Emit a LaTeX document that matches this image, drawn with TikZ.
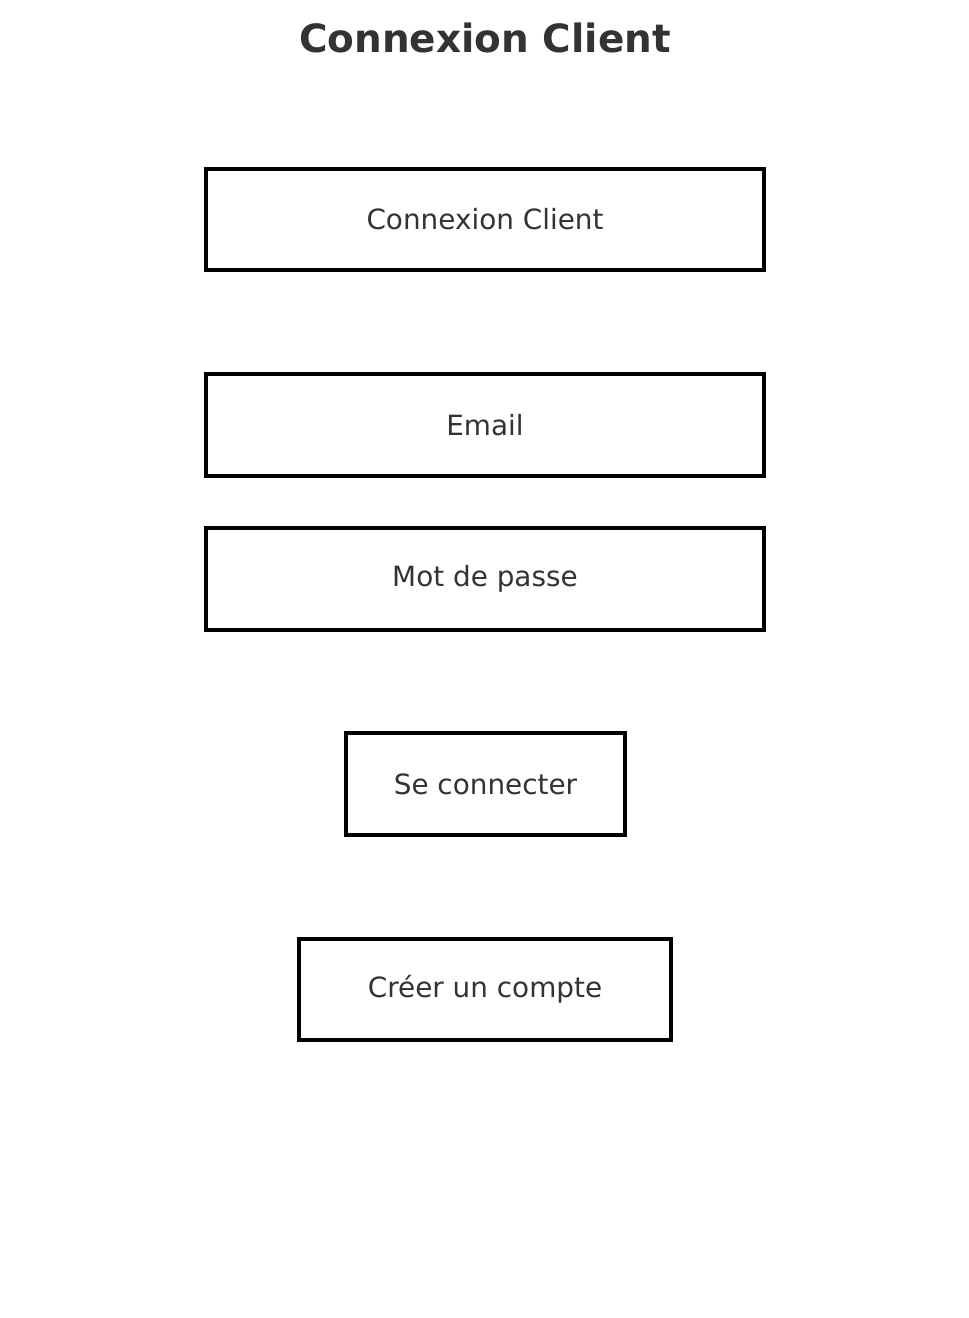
\documentclass[tikz,border=0pt]{standalone}
\usepackage{fontspec}
\setmainfont{DejaVu Sans}
\definecolor{txt}{HTML}{333333}
\begin{document}
\begin{tikzpicture}[x=0.75pt,y=-0.75pt,
  field/.style={draw=black,line width=2.7pt,fill=white,text=txt,inner sep=0pt,font=\fontsize{20.9}{25}\selectfont},
  title/.style={text=txt,font=\fontsize{29.2}{35}\selectfont\bfseries,inner sep=0pt}]
\useasboundingbox[fill=white] (0,0) rectangle (969,1318);
\node[title] (t) at (485,38) {Connexion Client};
\node[field,minimum width=558*0.75pt,minimum height=101*0.75pt] (c) at (485,219.5) {Connexion Client};
\node[field,minimum width=558*0.75pt,minimum height=102*0.75pt] (e) at (485,425) {Email};
\node[field,minimum width=558*0.75pt,minimum height=102*0.75pt] (m) at (485,579) {Mot de passe};
\node[field,minimum width=279*0.75pt,minimum height=102*0.75pt] (s) at (485.5,784) {Se connecter};
\node[field,minimum width=372*0.75pt,minimum height=101*0.75pt] (r) at (485,989.5) {Créer un compte};
\end{tikzpicture}
\end{document}
